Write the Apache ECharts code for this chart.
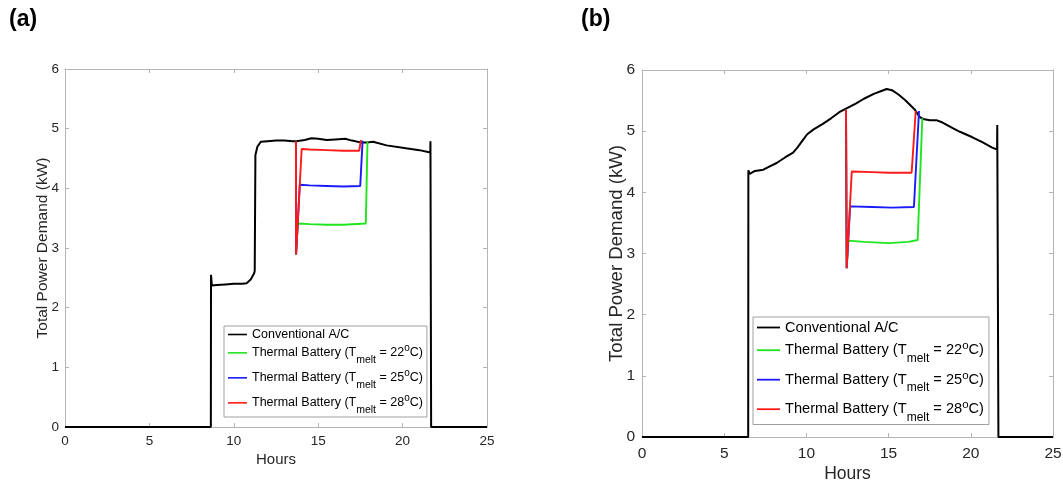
<!DOCTYPE html>
<html>
<head>
<meta charset="utf-8">
<title>Total Power Demand</title>
<script src="https://cdn.jsdelivr.net/npm/echarts@6/dist/echarts.min.js"></script>
<style>
  html, body { margin: 0; padding: 0; background: #ffffff; }
  #chart { width: 1063px; height: 486px; }
</style>
</head>
<body>
<div id="chart"></div>
<script>
// ---- Panel (a): hourly demand profile ----
const acHoursA = [0, 8.64, 8.65, 8.70, 9.0, 9.5, 10.0, 10.5, 10.76, 11.0, 11.21, 11.24, 11.28, 11.4, 11.6, 12.0, 12.5, 13.0, 13.5, 13.7, 14.2, 14.6, 15.0, 15.5, 16.0, 16.6, 17.0, 17.5, 17.9, 18.25, 19.05, 20.2, 21.0, 21.64, 21.65, 21.69, 25];
const acKwA    = [0, 0, 2.55, 2.37, 2.38, 2.39, 2.40, 2.40, 2.41, 2.47, 2.58, 2.62, 4.56, 4.70, 4.78, 4.79, 4.80, 4.80, 4.79, 4.79, 4.81, 4.84, 4.83, 4.81, 4.82, 4.83, 4.80, 4.77, 4.77, 4.78, 4.72, 4.67, 4.64, 4.60, 4.79, 0, 0];

const tb22HoursA = [13.68, 13.69, 13.79, 14.5, 15.5, 16.5, 17.82, 17.92];
const tb22KwA    = [4.79, 2.89, 3.41, 3.40, 3.39, 3.39, 3.41, 4.78];
const tb25HoursA = [13.68, 13.69, 13.91, 14.5, 15.5, 16.5, 17.49, 17.63];
const tb25KwA    = [4.79, 2.89, 4.06, 4.05, 4.04, 4.03, 4.04, 4.80];
const tb28HoursA = [13.68, 13.69, 14.02, 14.5, 15.5, 16.5, 17.43, 17.53];
const tb28KwA    = [4.79, 2.89, 4.66, 4.65, 4.64, 4.63, 4.63, 4.81];

// ---- Panel (b): hourly demand profile ----
const acHoursB = [0, 6.46, 6.47, 6.55, 6.61, 6.87, 7.38, 7.8, 8.19, 8.7, 9.19, 9.45, 9.75, 10.05, 10.44, 11.0, 11.5, 12.0, 12.5, 13.0, 13.5, 14.1, 14.6, 14.88, 15.2, 15.6, 16.0, 16.6, 16.9, 17.1, 17.5, 17.9, 18.2, 18.9, 19.34, 20.1, 20.7, 21.3, 21.6, 21.61, 21.68, 25];
const acKwB    = [0, 0, 4.36, 4.30, 4.29, 4.35, 4.37, 4.43, 4.48, 4.57, 4.65, 4.73, 4.84, 4.95, 5.03, 5.12, 5.21, 5.31, 5.38, 5.45, 5.53, 5.61, 5.66, 5.69, 5.67, 5.60, 5.51, 5.35, 5.23, 5.20, 5.18, 5.18, 5.15, 5.05, 4.99, 4.90, 4.82, 4.73, 4.70, 5.10, 0, 0];

const tb22HoursB = [12.41, 12.45, 12.55, 13.5, 15.0, 16.2, 16.77, 17.05];
const tb22KwB    = [5.35, 2.76, 3.21, 3.19, 3.17, 3.19, 3.22, 5.21];
const tb25HoursB = [12.41, 12.45, 12.66, 14.0, 15.2, 16.54, 16.85];
const tb25KwB    = [5.35, 2.76, 3.77, 3.76, 3.75, 3.76, 5.33];
const tb28HoursB = [12.41, 12.45, 12.76, 14.0, 15.0, 16.4, 16.65];
const tb28KwB    = [5.35, 2.76, 4.34, 4.33, 4.32, 4.32, 5.33];

// ---- Axis ticks and legend text ----
const hourTicks = [0, 5, 10, 15, 20, 25];
const kwTicks = [0, 1, 2, 3, 4, 5, 6];
const seriesNames = [
  'Conventional A/C',
  'Thermal Battery (Tmelt = 22°C)',
  'Thermal Battery (Tmelt = 25°C)',
  'Thermal Battery (Tmelt = 28°C)'
];
const seriesColors = ['#000000', '#1ee61e', '#1a1aff', '#ff1a1a'];

const FONT = '"Liberation Sans", Arial, Helvetica, sans-serif';
const AXIS_GRAY = '#b4b4b4';
const TEXT_DARK = '#262626';

function zip(xs, ys) {
  return xs.map((x, i) => [x, ys[i]]);
}

function axisPair(gridIndex, ticks, mainPos, mirrorPos, opts) {
  const common = {
    type: 'value',
    gridIndex: gridIndex,
    min: ticks[0],
    max: ticks[ticks.length - 1],
    interval: ticks[1] - ticks[0],
    splitLine: { show: false },
    axisLine: { show: true, onZero: false, lineStyle: { color: AXIS_GRAY, width: 1 } },
    axisTick: { show: true, inside: true, length: 4, lineStyle: { color: AXIS_GRAY, width: 1 } }
  };
  const main = Object.assign({}, common, {
    position: mainPos,
    name: opts.name,
    nameLocation: 'middle',
    nameGap: opts.nameGap,
    nameMoveOverlap: false,
    nameTextStyle: { fontFamily: FONT, fontSize: opts.nameSize, color: TEXT_DARK },
    axisLabel: {
      show: true,
      margin: opts.labelMargin,
      fontFamily: FONT,
      fontSize: opts.labelSize,
      color: TEXT_DARK,
      showMinLabel: true,
      showMaxLabel: true
    }
  });
  const mirror = Object.assign({}, common, {
    position: mirrorPos,
    axisLabel: { show: false }
  });
  return [main, mirror];
}

// rich styles: m = main text, s = subscript, p = superscript
function legendRich(main, sub, sup, lineH) {
  return {
    m: { fontFamily: FONT, fontSize: main, color: '#000', lineHeight: lineH, verticalAlign: 'middle' },
    s: { fontFamily: FONT, fontSize: sub, color: '#000', verticalAlign: 'bottom' },
    p: { fontFamily: FONT, fontSize: sup, color: '#000', verticalAlign: 'top', padding: [4, 0, 0, 0] }
  };
}

function legendLabel(name) {
  const m = name.match(/^(.*\(T)melt( = \d+)°(C\))$/);
  if (!m) return name;
  return '{m|' + m[1] + '}{s|melt}{m|' + m[2] + '}{p|o}{m|' + m[3] + '}';
}

function panelSeries(xIdx, yIdx, hoursList, kwList) {
  return hoursList.map((hours, i) => ({
    type: 'line',
    name: seriesNames[i],
    xAxisIndex: xIdx,
    yAxisIndex: yIdx,
    data: zip(hours, kwList[i]),
    symbol: 'none',
    showSymbol: false,
    smooth: false,
    clip: true,
    color: seriesColors[i],
    itemStyle: { color: seriesColors[i] },
    lineStyle: { color: seriesColors[i], width: i === 0 ? 2 : 1.9 },
    emphasis: { disabled: true },
    z: 2 + i
  }));
}

const xA = axisPair(0, hourTicks, 'bottom', 'top',
  { name: 'Hours', nameGap: 25, nameSize: 15, labelMargin: 7, labelSize: 13.5 });
const xB = axisPair(1, hourTicks, 'bottom', 'top',
  { name: 'Hours', nameGap: 28, nameSize: 17.5, labelMargin: 9, labelSize: 15.5 });
const yA = axisPair(0, kwTicks, 'left', 'right',
  { name: 'Total Power Demand (kW)', nameGap: 14, nameSize: 15.5, labelMargin: 6, labelSize: 13.5 });
const yB = axisPair(1, kwTicks, 'left', 'right',
  { name: 'Total Power Demand (kW)', nameGap: 16, nameSize: 18.6, labelMargin: 7, labelSize: 15.5 });

const option = {
  animation: false,
  backgroundColor: '#ffffff',
  textStyle: { fontFamily: FONT },
  title: [
    { text: '(a)', left: 9, top: 8, padding: 0, textStyle: { fontFamily: FONT, fontSize: 23, fontWeight: 'bold', color: '#000' } },
    { text: '(b)', left: 581, top: 8, padding: 0, textStyle: { fontFamily: FONT, fontSize: 23, fontWeight: 'bold', color: '#000' } }
  ],
  grid: [
    { left: 65, top: 69, width: 422, height: 358, containLabel: false, outerBoundsMode: 'none' },
    { left: 642, top: 70, width: 411, height: 367, containLabel: false, outerBoundsMode: 'none' }
  ],
  xAxis: [xA[0], xA[1], xB[0], xB[1]],
  yAxis: [yA[0], yA[1], yB[0], yB[1]],
  legend: [
    {
      data: seriesNames,
      orient: 'vertical',
      left: 224,
      top: 326,
      padding: [2, 4, 1, 4],
      itemGap: 2.7,
      itemWidth: 19,
      itemHeight: 1.6,
      icon: 'rect',
      selectedMode: false,
      backgroundColor: '#ffffff',
      borderColor: '#a0a0a0',
      borderWidth: 1,
      borderRadius: 0,
      formatter: legendLabel,
      textStyle: { fontFamily: FONT, fontSize: 12.5, color: '#000', rich: legendRich(12.5, 10.5, 10, 26.3) }
    },
    {
      data: seriesNames,
      orient: 'vertical',
      left: 753,
      top: 317,
      padding: [3, 5, 1, 4],
      itemGap: 4.9,
      itemWidth: 23,
      itemHeight: 1.8,
      icon: 'rect',
      selectedMode: false,
      backgroundColor: '#ffffff',
      borderColor: '#a0a0a0',
      borderWidth: 1,
      borderRadius: 0,
      formatter: legendLabel,
      textStyle: { fontFamily: FONT, fontSize: 14.6, color: '#000', rich: legendRich(14.6, 12, 11.5, 28.6) }
    }
  ],
  series: [].concat(
    panelSeries(0, 0, [acHoursA, tb22HoursA, tb25HoursA, tb28HoursA], [acKwA, tb22KwA, tb25KwA, tb28KwA]),
    panelSeries(2, 2, [acHoursB, tb22HoursB, tb25HoursB, tb28HoursB], [acKwB, tb22KwB, tb25KwB, tb28KwB])
  )
};

const chart = echarts.init(document.getElementById('chart'), null, { renderer: 'canvas' });
chart.setOption(option);
</script>
</body>
</html>
